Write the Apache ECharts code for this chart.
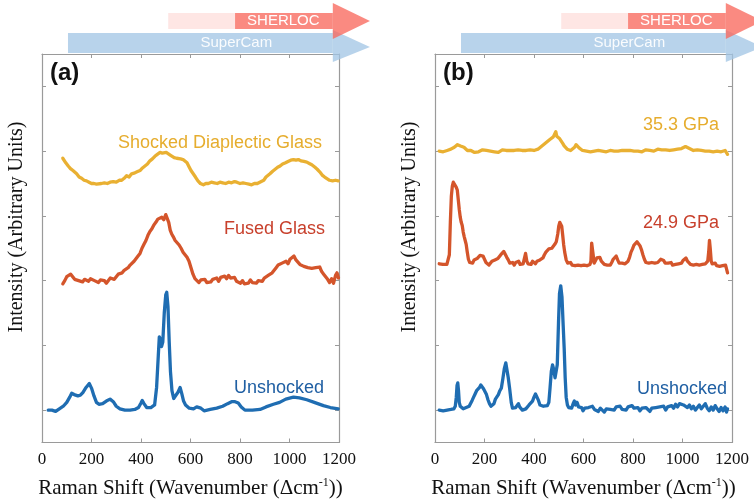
<!DOCTYPE html>
<html>
<head>
<meta charset="utf-8">
<script src="https://cdn.jsdelivr.net/npm/echarts@6/dist/echarts.min.js"></script>
<style>html,body{margin:0;padding:0;background:#fff}#c{width:754px;height:504px}</style>
</head>
<body>
<div id="c"></div>
<script>
// ---------- data (Raman shift cm^-1, stacked intensity, arbitrary units) ----------
const xTickLabels = ['0','200','400','600','800','1000','1200'];
const yTickValues = [0,1,2,3,4,5];

// coverage of instruments (cm^-1): start, head base, tip
const superCamRange = [105, 1175, 1325];
// faded start, solid start, head base, tip
const sherlocRange = [510, 780, 1175, 1325];
const superCamLabelAt = 785;
const sherlocLabelAt = 975;

// Panel (a)
const aUnshocked = [[25,0.0],[40,0.0],[55,-0.02],[70,0.02],[86,0.06],[100,0.12],[112,0.2],[120,0.26],[130,0.24],[145,0.22],[155,0.23],[165,0.27],[178,0.35],[191,0.41],[200,0.34],[210,0.22],[220,0.12],[230,0.09],[245,0.1],[260,0.14],[275,0.17],[288,0.13],[300,0.06],[315,0.02],[335,0.0],[356,0.0],[375,0.01],[390,0.04],[400,0.11],[405,0.15],[412,0.1],[423,0.04],[440,0.04],[455,0.08],[463,0.35],[470,0.85],[474,1.13],[479,1.08],[483,0.98],[488,1.05],[494,1.5],[500,1.78],[504,1.82],[509,1.6],[514,1.05],[519,0.6],[525,0.3],[532,0.18],[540,0.18],[550,0.28],[558,0.35],[565,0.25],[572,0.14],[580,0.08],[595,0.03],[612,0.02],[625,0.05],[632,0.07],[642,0.03],[655,-0.01],[680,0.01],[706,0.03],[730,0.06],[750,0.1],[766,0.13],[780,0.13],[793,0.11],[805,0.05],[820,0.0],[850,0.0],[881,0.01],[905,0.05],[935,0.09],[960,0.12],[985,0.17],[1016,0.2],[1040,0.19],[1070,0.16],[1100,0.12],[1137,0.07],[1165,0.04],[1197,0.02]];

const aFused = [[84,1.95],[92,2.0],[100,2.06],[108,2.04],[116,2.1],[124,2.07],[132,2.02],[140,2.05],[148,2.0],[156,2.03],[164,1.98],[172,2.02],[180,2.04],[188,1.99],[196,2.03],[204,2.05],[212,2.0],[220,2.02],[228,1.97],[236,2.01],[244,2.03],[252,2.0],[260,1.96],[268,1.99],[276,2.04],[284,2.07],[292,2.02],[300,2.06],[308,2.1],[316,2.07],[324,2.12],[332,2.16],[340,2.13],[348,2.2],[356,2.24],[364,2.22],[372,2.3],[380,2.33],[388,2.38],[396,2.42],[404,2.5],[412,2.56],[420,2.62],[428,2.7],[436,2.76],[444,2.8],[452,2.86],[460,2.9],[468,2.95],[476,2.92],[484,2.98],[492,2.94],[500,3.02],[506,3.0],[512,2.9],[518,2.78],[524,2.72],[530,2.68],[538,2.62],[546,2.6],[554,2.55],[562,2.5],[570,2.44],[578,2.42],[586,2.36],[594,2.3],[602,2.2],[610,2.1],[618,2.03],[626,2.0],[634,1.97],[642,2.01],[650,1.98],[658,2.02],[666,1.97],[674,2.0],[682,1.98],[690,2.02],[698,2.0],[706,2.04],[714,1.99],[722,2.05],[730,2.02],[738,2.07],[746,2.03],[754,2.08],[762,2.04],[770,2.02],[778,2.05],[786,1.99],[794,2.01],[802,1.96],[810,2.0],[818,1.95],[826,1.98],[834,1.96],[842,2.01],[850,1.97],[858,2.0],[866,1.96],[874,2.0],[882,2.03],[890,1.99],[898,2.04],[906,2.02],[914,2.08],[922,2.06],[930,2.12],[938,2.15],[946,2.2],[954,2.24],[962,2.22],[970,2.27],[978,2.24],[986,2.3],[994,2.26],[1002,2.33],[1010,2.3],[1018,2.38],[1026,2.32],[1034,2.3],[1042,2.25],[1050,2.28],[1058,2.22],[1066,2.24],[1074,2.2],[1082,2.23],[1090,2.19],[1098,2.22],[1106,2.2],[1114,2.18],[1122,2.21],[1130,2.14],[1138,2.1],[1146,2.08],[1154,2.02],[1162,1.97],[1170,2.03],[1178,1.96],[1186,2.08],[1192,2.12],[1198,2.04]];

const aShocked = [[84,3.89],[90,3.86],[96,3.82],[106,3.77],[115,3.73],[125,3.7],[140,3.65],[150,3.6],[160,3.58],[170,3.55],[180,3.54],[190,3.52],[200,3.5],[210,3.5],[220,3.49],[228,3.48],[240,3.5],[252,3.51],[264,3.5],[275,3.52],[288,3.53],[300,3.52],[312,3.55],[322,3.55],[332,3.58],[342,3.62],[352,3.6],[362,3.65],[372,3.66],[384,3.68],[396,3.7],[406,3.74],[416,3.77],[426,3.8],[436,3.85],[446,3.88],[456,3.92],[466,3.95],[477,3.98],[486,3.97],[494,4.0],[502,3.98],[510,3.98],[518,3.94],[526,3.92],[534,3.9],[544,3.89],[552,3.87],[560,3.88],[570,3.87],[578,3.87],[586,3.82],[594,3.76],[602,3.7],[611,3.65],[620,3.6],[630,3.54],[640,3.5],[652,3.48],[662,3.5],[672,3.5],[684,3.52],[696,3.51],[708,3.5],[719,3.52],[730,3.51],[742,3.5],[754,3.52],[766,3.51],[778,3.53],[787,3.52],[800,3.5],[812,3.51],[824,3.5],[836,3.49],[847,3.48],[858,3.5],[870,3.5],[880,3.52],[888,3.52],[896,3.55],[905,3.6],[913,3.63],[921,3.65],[932,3.69],[942,3.72],[952,3.75],[962,3.77],[972,3.8],[984,3.82],[994,3.84],[1005,3.86],[1016,3.87],[1026,3.86],[1036,3.87],[1046,3.85],[1058,3.84],[1070,3.83],[1080,3.81],[1090,3.79],[1103,3.75],[1112,3.72],[1122,3.68],[1132,3.63],[1142,3.6],[1150,3.57],[1162,3.55],[1174,3.54],[1186,3.55],[1197,3.54]];

// Panel (b)
const bUnshocked = [[17,0.0],[25,0.01],[33,-0.01],[41,0.01],[49,0.0],[57,0.02],[64,0.01],[70,0.03],[76,0.02],[82,0.06],[86,0.2],[89,0.38],[92,0.42],[95,0.3],[98,0.12],[102,0.06],[108,0.03],[114,0.02],[120,0.05],[126,0.04],[132,0.03],[138,0.06],[144,0.09],[150,0.15],[156,0.2],[162,0.25],[168,0.3],[174,0.32],[180,0.35],[185,0.39],[190,0.36],[196,0.33],[202,0.3],[208,0.24],[214,0.16],[220,0.1],[226,0.06],[232,0.04],[238,0.1],[244,0.17],[250,0.2],[256,0.24],[262,0.3],[268,0.34],[274,0.48],[280,0.64],[286,0.73],[291,0.7],[296,0.5],[302,0.32],[308,0.12],[313,0.03],[320,0.05],[326,0.04],[332,0.06],[337,0.1],[342,0.05],[348,0.02],[353,0.0],[360,0.03],[367,0.02],[374,0.05],[380,0.08],[387,0.11],[394,0.14],[400,0.2],[406,0.25],[412,0.22],[418,0.15],[424,0.08],[430,0.05],[438,0.06],[446,0.05],[454,0.07],[460,0.12],[465,0.35],[470,0.6],[475,0.7],[480,0.62],[485,0.5],[489,0.47],[494,0.7],[499,1.35],[503,1.8],[508,1.92],[513,1.75],[518,1.3],[522,0.95],[526,0.5],[530,0.2],[535,0.08],[540,0.04],[546,0.06],[552,0.03],[558,0.1],[563,0.14],[568,0.08],[574,0.12],[580,0.05],[586,0.02],[592,0.04],[598,-0.01],[605,0.03],[612,0.0],[620,0.04],[628,0.02],[636,0.06],[644,0.01],[652,0.04],[660,-0.02],[668,0.03],[676,0.0],[684,-0.03],[692,0.02],[700,0.05],[708,0.01],[716,0.04],[724,0.0],[732,0.05],[740,0.02],[748,0.06],[756,0.01],[764,0.04],[772,0.0],[780,0.05],[788,0.02],[796,0.07],[804,0.03],[812,0.0],[820,0.04],[828,-0.01],[836,0.03],[844,0.0],[852,0.04],[860,0.01],[868,-0.02],[876,0.03],[884,0.0],[892,0.04],[900,0.01],[908,0.05],[916,0.02],[924,0.06],[932,0.0],[940,0.05],[948,0.02],[956,0.07],[964,0.03],[972,0.09],[980,0.05],[988,0.1],[996,0.13],[1004,0.08],[1012,0.11],[1020,0.04],[1028,0.08],[1036,0.02],[1044,0.06],[1052,0.0],[1060,0.04],[1068,0.08],[1076,0.02],[1084,0.05],[1092,0.1],[1100,0.03],[1108,-0.01],[1116,0.05],[1124,0.0],[1132,0.07],[1140,0.02],[1148,-0.02],[1156,0.04],[1164,-0.01],[1172,0.05],[1178,-0.03],[1182,0.02]];

const b249 = [[17,2.26],[24,2.27],[32,2.25],[40,2.27],[48,2.25],[54,2.28],[58,2.4],[62,2.9],[66,3.3],[70,3.46],[74,3.52],[78,3.54],[82,3.5],[86,3.44],[90,3.4],[94,3.25],[98,3.1],[102,2.98],[106,2.9],[110,2.85],[114,2.75],[118,2.68],[122,2.62],[126,2.56],[130,2.45],[135,2.33],[140,2.28],[146,2.3],[152,2.27],[158,2.32],[164,2.3],[170,2.34],[176,2.37],[182,2.39],[188,2.36],[194,2.38],[200,2.33],[206,2.28],[212,2.26],[218,2.24],[224,2.27],[230,2.3],[236,2.28],[242,2.32],[248,2.3],[254,2.34],[260,2.37],[266,2.4],[272,2.43],[278,2.45],[284,2.42],[290,2.36],[296,2.32],[302,2.27],[308,2.25],[314,2.28],[320,2.24],[326,2.28],[332,2.26],[338,2.3],[344,2.25],[350,2.28],[356,2.26],[362,2.28],[366,2.42],[368,2.44],[371,2.3],[376,2.26],[382,2.28],[388,2.25],[394,2.3],[400,2.27],[406,2.26],[412,2.3],[418,2.28],[424,2.32],[430,2.3],[436,2.35],[442,2.4],[448,2.44],[454,2.47],[460,2.49],[466,2.46],[472,2.5],[478,2.52],[484,2.56],[490,2.6],[496,2.72],[500,2.84],[504,2.9],[508,2.91],[512,2.84],[516,2.7],[520,2.55],[524,2.44],[530,2.32],[536,2.27],[542,2.25],[548,2.28],[554,2.24],[560,2.27],[566,2.23],[572,2.26],[578,2.24],[584,2.27],[590,2.23],[596,2.26],[602,2.24],[608,2.27],[614,2.23],[620,2.26],[626,2.25],[630,2.3],[633,2.58],[636,2.6],[639,2.4],[643,2.27],[648,2.3],[654,2.35],[660,2.38],[666,2.36],[672,2.3],[678,2.27],[684,2.25],[690,2.28],[696,2.24],[702,2.27],[708,2.24],[714,2.28],[720,2.33],[726,2.36],[732,2.38],[738,2.32],[744,2.27],[750,2.25],[756,2.27],[762,2.24],[768,2.26],[774,2.24],[780,2.3],[786,2.36],[792,2.44],[798,2.49],[804,2.55],[810,2.58],[816,2.6],[822,2.58],[828,2.54],[834,2.48],[840,2.4],[846,2.33],[852,2.28],[858,2.25],[864,2.27],[870,2.24],[876,2.28],[882,2.25],[888,2.27],[894,2.24],[900,2.28],[906,2.3],[912,2.33],[918,2.35],[924,2.31],[930,2.27],[936,2.24],[942,2.27],[948,2.25],[954,2.28],[960,2.24],[966,2.27],[972,2.25],[978,2.28],[984,2.26],[990,2.29],[996,2.27],[1002,2.31],[1008,2.34],[1014,2.35],[1020,2.3],[1026,2.27],[1032,2.25],[1038,2.28],[1044,2.24],[1050,2.27],[1056,2.25],[1062,2.28],[1068,2.24],[1074,2.27],[1080,2.25],[1086,2.28],[1092,2.26],[1098,2.29],[1102,2.3],[1106,2.45],[1109,2.62],[1112,2.5],[1116,2.3],[1120,2.26],[1126,2.24],[1132,2.27],[1138,2.23],[1144,2.26],[1150,2.22],[1156,2.25],[1162,2.23],[1168,2.26],[1174,2.24],[1178,2.26],[1182,2.12]];

const b353 = [[17,4.0],[25,4.01],[33,3.99],[41,4.0],[49,4.01],[57,4.0],[64,4.03],[71,4.04],[78,4.06],[85,4.09],[91,4.1],[97,4.07],[103,4.08],[110,4.05],[117,4.06],[124,4.03],[131,4.01],[138,3.99],[145,4.01],[152,4.0],[160,3.98],[168,4.01],[176,3.99],[184,4.0],[192,4.02],[200,3.99],[208,4.01],[216,3.98],[224,4.0],[232,4.02],[240,3.99],[248,4.01],[256,3.98],[264,4.0],[272,4.02],[280,3.99],[288,4.01],[296,3.99],[304,4.01],[312,4.0],[320,4.01],[328,4.0],[336,4.02],[344,3.99],[352,4.01],[360,4.0],[368,4.01],[376,4.0],[384,4.02],[392,4.0],[400,4.01],[408,4.01],[416,4.03],[424,4.05],[432,4.08],[440,4.1],[448,4.13],[456,4.16],[464,4.18],[472,4.2],[478,4.22],[484,4.24],[488,4.3],[492,4.23],[498,4.21],[504,4.19],[510,4.16],[516,4.12],[522,4.08],[528,4.05],[534,4.03],[540,4.02],[548,4.01],[556,4.02],[564,4.06],[570,4.1],[576,4.08],[582,4.05],[588,4.03],[596,4.01],[604,4.02],[612,4.0],[620,4.01],[628,3.99],[636,4.01],[644,4.0],[652,3.99],[660,4.01],[668,3.99],[676,4.0],[684,4.01],[692,3.99],[700,4.0],[708,4.01],[716,3.99],[724,4.0],[732,4.01],[740,4.0],[748,3.99],[756,4.01],[764,4.0],[772,4.01],[780,4.0],[788,4.01],[796,3.99],[804,4.0],[812,4.01],[820,4.0],[828,4.01],[836,3.99],[844,4.0],[852,4.02],[860,4.0],[868,4.01],[876,4.02],[884,4.0],[892,4.01],[900,4.03],[908,4.01],[916,4.02],[924,4.04],[932,4.02],[940,4.03],[948,4.01],[956,4.03],[964,4.02],[972,4.04],[980,4.03],[988,4.05],[996,4.04],[1004,4.06],[1012,4.07],[1020,4.05],[1028,4.04],[1036,4.02],[1044,4.01],[1052,4.0],[1060,4.02],[1068,4.0],[1076,4.01],[1084,3.99],[1092,4.0],[1100,4.02],[1108,4.0],[1116,4.01],[1124,3.99],[1132,4.01],[1140,4.0],[1148,4.01],[1156,3.99],[1164,4.0],[1172,4.01],[1178,3.99],[1182,3.95]];

// ---------- chart ----------
const BLUE = '#1f6db2', RED = '#d4552b', GOLD = '#e9b032';
const FRAME = '#9a9a9a';
const SERIF = '"Liberation Serif", "Times New Roman", serif';
const SANS = '"Liberation Sans", Arial, Helvetica, sans-serif';

const chart = echarts.init(document.getElementById('c'), null, {renderer: 'canvas'});

const grids = [
  {left: 42, top: 54, width: 297, height: 390},
  {left: 435, top: 54, width: 297, height: 390}
];

function xAxes(g) {
  const common = {
    type: 'value', gridIndex: g, min: 0, max: 1200, interval: 200,
    axisLine: {show: true, onZero: false, lineStyle: {color: FRAME, width: 1.2}},
    axisTick: {show: true, inside: true, length: 4, lineStyle: {color: FRAME}},
    splitLine: {show: false}
  };
  return [
    Object.assign({}, common, {
      position: 'bottom',
      axisLabel: {show: true, margin: 9, color: '#111', fontFamily: SERIF, fontSize: 17,
        formatter: (v) => xTickLabels[Math.round(v / 200)]},
      name: '{a|Raman Shift (Wavenumber (\u0394cm}{s|-1}{a|))}',
      nameLocation: 'middle', nameGap: 34,
      nameTextStyle: {rich: {
        a: {fontFamily: SERIF, fontSize: 21, color: '#111', lineHeight: 24},
        s: {fontFamily: SERIF, fontSize: 12, color: '#111', verticalAlign: 'top', lineHeight: 24, padding: [0, 0, 9, 0]}
      }}
    }),
    Object.assign({}, common, {position: 'top', axisLabel: {show: false}})
  ];
}
function yAxes(g) {
  const common = {
    type: 'value', gridIndex: g, min: -0.5, max: 5.5,
    axisLine: {show: true, onZero: false, lineStyle: {color: FRAME, width: 1.2}},
    axisTick: {show: true, inside: true, length: 4, customValues: yTickValues, lineStyle: {color: FRAME}},
    axisLabel: {show: false},
    splitLine: {show: false}
  };
  return [
    Object.assign({}, common, {position: 'left'}),
    Object.assign({}, common, {position: 'right'})
  ];
}

function line(g, data, color) {
  return {
    type: 'line', xAxisIndex: g * 2, yAxisIndex: g * 2, data: data,
    showSymbol: false, symbol: 'none', smooth: false, silent: true,
    lineStyle: {color: color, width: 3.3, join: 'round', cap: 'round'},
    z: 3
  };
}

function arrows(g) {
  return {
    type: 'custom', xAxisIndex: g * 2, yAxisIndex: g * 2, clip: false, silent: true, z: 4,
    data: [[0, 0]],
    renderItem: function (params, api) {
      const top = params.coordSys.y;
      const px = (v) => api.coord([v, 0])[0];
      const sc0 = px(superCamRange[0]), sc1 = px(superCamRange[1]), sc2 = px(superCamRange[2]);
      const sh0 = px(sherlocRange[0]), sh1 = px(sherlocRange[1]), sh2 = px(sherlocRange[2]), sh3 = px(sherlocRange[3]);
      const scCol = 'rgba(160,196,228,0.75)';
      const shCol = 'rgba(249,105,93,0.78)';
      return {
        type: 'group',
        children: [
          {type: 'rect', shape: {x: sc0, y: top - 21, width: sc1 - sc0, height: 20}, style: {fill: scCol}},
          {type: 'polygon', shape: {points: [[sc1, top - 24], [sc2, top - 7], [sc1, top + 8]]}, style: {fill: scCol}},
          {type: 'text', x: px(superCamLabelAt), y: top - 11, style: {text: 'SuperCam', fill: 'rgba(255,255,255,0.92)', font: '15px ' + SANS, align: 'center', verticalAlign: 'middle'}},
          {type: 'rect', shape: {x: sh0, y: top - 41, width: sh1 - sh0, height: 16}, style: {fill: 'rgba(249,105,93,0.17)'}},
          {type: 'rect', shape: {x: sh1, y: top - 41, width: sh2 - sh1, height: 16}, style: {fill: shCol}},
          {type: 'polygon', shape: {points: [[sh2, top - 51], [sh3, top - 33], [sh2, top - 15]]}, style: {fill: shCol}},
          {type: 'text', x: px(sherlocLabelAt), y: top - 33, style: {text: 'SHERLOC', fill: '#fff', font: '15px ' + SANS, align: 'center', verticalAlign: 'middle'}}
        ]
      };
    }
  };
}

function label(text, x, y, color, align) {
  return {type: 'text', x: x, y: y, z: 10, silent: true,
    style: {text: text, fill: color, font: '18px ' + SANS, align: align || 'right', verticalAlign: 'middle'}};
}
function yTitle(x) {
  return {type: 'text', x: x, y: 227, rotation: Math.PI / 2, z: 10, silent: true,
    style: {text: 'Intensity (Arbitrary Units)', fill: '#111', font: '20px ' + SERIF, align: 'center', verticalAlign: 'middle'}};
}

const option = {
  animation: false,
  backgroundColor: '#fff',
  grid: grids,
  xAxis: xAxes(0).concat(xAxes(1)),
  yAxis: yAxes(0).concat(yAxes(1)),
  series: [
    line(0, aUnshocked, BLUE), line(0, aFused, RED), line(0, aShocked, GOLD),
    line(1, bUnshocked, BLUE), line(1, b249, RED), line(1, b353, GOLD),
    arrows(0), arrows(1)
  ],
  graphic: [
    {type: 'text', x: 50, y: 73, z: 10, style: {text: '(a)', fill: '#111', font: 'bold 24px ' + SANS, verticalAlign: 'middle'}},
    {type: 'text', x: 443, y: 73, z: 10, style: {text: '(b)', fill: '#111', font: 'bold 24px ' + SANS, verticalAlign: 'middle'}},
    yTitle(17), yTitle(410),
    label('Shocked Diaplectic Glass', 220, 143, '#e6ad2e', 'center'),
    label('Fused Glass', 325, 229, '#c8402c'),
    label('Unshocked', 324, 388, '#1f5fa3'),
    label('35.3 GPa', 719, 125, '#e6ad2e'),
    label('24.9 GPa', 719, 223, '#c8402c'),
    label('Unshocked', 727, 389, '#1f5fa3')
  ]
};
chart.setOption(option);
</script>
</body>
</html>
